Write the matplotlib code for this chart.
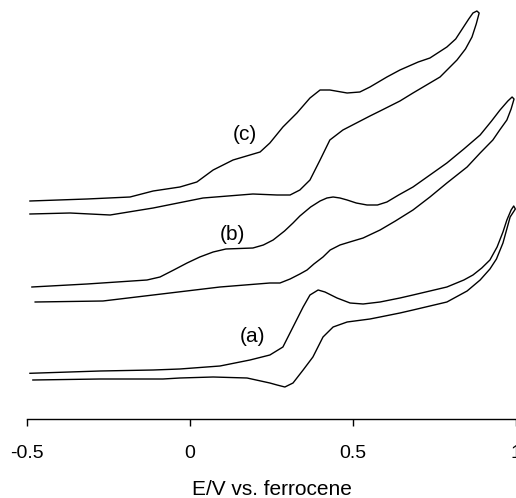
import matplotlib
matplotlib.use("Agg")
import matplotlib.pyplot as plt

plt.rcParams['font.family'] = ['Liberation Sans', 'DejaVu Sans']

# Potential (V vs. ferrocene) and current (arbitrary units, curves offset)
a_fwd_E = [-0.491, -0.276, -0.113, -0.031, 0.092, 0.184, 0.245, 0.285, 0.316, 0.347, 0.368, 0.393,
           0.414, 0.451, 0.491, 0.531, 0.583, 0.644, 0.684, 0.736, 0.788, 0.840, 0.868, 0.895,
           0.920, 0.942, 0.960, 0.972, 0.985, 0.993]
a_fwd_I = [4.57, 4.8, 4.9, 5.0, 5.3, 5.9, 6.4, 7.2, 9.2, 11.2, 12.4, 12.9,
           12.7, 12.1, 11.6, 11.5, 11.7, 12.1, 12.4, 12.8, 13.2, 13.9, 14.4, 15.1,
           15.9, 17.2, 18.7, 19.9, 20.9, 21.3]
a_rev_E = [0.998, 0.982, 0.960, 0.940, 0.920, 0.890, 0.850, 0.788, 0.736, 0.684, 0.644, 0.583,
           0.552, 0.482, 0.439, 0.408, 0.377, 0.347, 0.316, 0.291, 0.267, 0.245, 0.175, 0.071,
           -0.031, -0.083, -0.276, -0.482]
a_rev_I = [21.0, 20.2, 17.6, 16.0, 15.0, 13.9, 12.8, 11.7, 11.3, 10.9, 10.6, 10.2,
           10.0, 9.7, 9.2, 8.2, 6.2, 4.9, 3.6, 3.2, 3.4, 3.6, 4.1, 4.2,
           4.1, 4.0, 4.0, 3.9]

b_fwd_E = [-0.485, -0.316, -0.132, -0.092, -0.050, -0.009, 0.030, 0.071, 0.110, 0.193, 0.225,
           0.255, 0.290, 0.316, 0.337, 0.370, 0.399, 0.420, 0.439, 0.460, 0.482, 0.510, 0.543,
           0.575, 0.604, 0.640, 0.684, 0.736, 0.788, 0.840, 0.890, 0.925, 0.951, 0.975, 0.988]
b_fwd_I = [13.2, 13.5, 13.9, 14.2, 14.9, 15.6, 16.2, 16.7, 17.0, 17.1, 17.4,
           17.9, 18.8, 19.6, 20.3, 21.2, 21.8, 22.1, 22.2, 22.1, 21.9, 21.6, 21.4,
           21.4, 21.7, 22.4, 23.2, 24.4, 25.6, 27.0, 28.4, 29.8, 30.9, 31.8, 32.2]
b_rev_E = [0.994, 0.985, 0.972, 0.950, 0.929, 0.890, 0.850, 0.788, 0.736, 0.684, 0.630, 0.583,
           0.531, 0.490, 0.460, 0.430, 0.408, 0.380, 0.359, 0.337, 0.307, 0.276, 0.245, 0.092,
           -0.113, -0.267, -0.475]
b_rev_I = [32.0, 31.0, 29.9, 28.9, 27.9, 26.6, 25.2, 23.6, 22.2, 20.9, 19.8, 18.9,
           18.1, 17.7, 17.4, 16.9, 16.2, 15.5, 14.9, 14.5, 14.0, 13.6, 13.6, 13.2,
           12.4, 11.8, 11.7]

c_fwd_E = [-0.491, -0.316, -0.184, -0.113, -0.031, 0.021, 0.071, 0.132, 0.215, 0.245, 0.285,
           0.328, 0.368, 0.399, 0.429, 0.482, 0.521, 0.552, 0.604, 0.644, 0.700, 0.736, 0.788,
           0.815, 0.837, 0.855, 0.868, 0.880]
c_fwd_I = [21.8, 22.0, 22.2, 22.8, 23.2, 23.7, 24.9, 25.9, 26.7, 27.6, 29.2,
           30.6, 32.1, 32.9, 32.9, 32.6, 32.7, 33.2, 34.2, 34.9, 35.7, 36.1, 37.2,
           38.0, 39.1, 40.0, 40.6, 40.8]
c_rev_E = [0.887, 0.878, 0.865, 0.845, 0.819, 0.767, 0.684, 0.644, 0.583, 0.552, 0.469, 0.429,
           0.399, 0.368, 0.337, 0.307, 0.267, 0.193, 0.040, -0.113, -0.245, -0.368, -0.491]
c_rev_I = [40.6, 39.5, 38.2, 37.0, 35.9, 34.2, 32.6, 31.8, 30.8, 30.3, 28.9, 27.9,
           25.9, 23.9, 22.9, 22.4, 22.4, 22.5, 22.1, 21.1, 20.4, 20.6, 20.5]

labels = ["(a)", "(b)", "(c)"]
label_E = [0.193, 0.129, 0.169]
label_I = [8.2, 18.5, 28.4]

xticks = [-0.5, 0, 0.5, 1]
xticklabels = ["-0.5", "0", "0.5", "1"]

fig = plt.figure(figsize=(5.16, 4.98), dpi=100)
ax = fig.add_axes([27 / 516, 79 / 498, 489 / 516, 419 / 498])

for E, I in [(a_fwd_E + a_rev_E, a_fwd_I + a_rev_I),
             (b_fwd_E + b_rev_E, b_fwd_I + b_rev_I),
             (c_fwd_E + c_rev_E, c_fwd_I + c_rev_I)]:
    ax.plot(E, I, color="black", lw=1.0, solid_joinstyle="round")

for t, x, y in zip(labels, label_E, label_I):
    ax.text(x, y, t, ha="center", va="center", fontsize=15)

ax.set_xlim(-0.5, 1.0)
ax.set_ylim(0, 41.9)
ax.set_xticks(xticks)
ax.set_xticklabels(xticklabels, fontsize=14)
ax.set_yticks([])
for s in ["top", "right", "left"]:
    ax.spines[s].set_visible(False)
ax.spines["bottom"].set_linewidth(1.0)
ax.tick_params(axis="x", direction="out", length=5, width=1.0, pad=14)
ax.set_xlabel("E/V vs. ferrocene", fontsize=15, labelpad=13)
ax.patch.set_alpha(0)

fig.savefig("out.png", dpi=100)
